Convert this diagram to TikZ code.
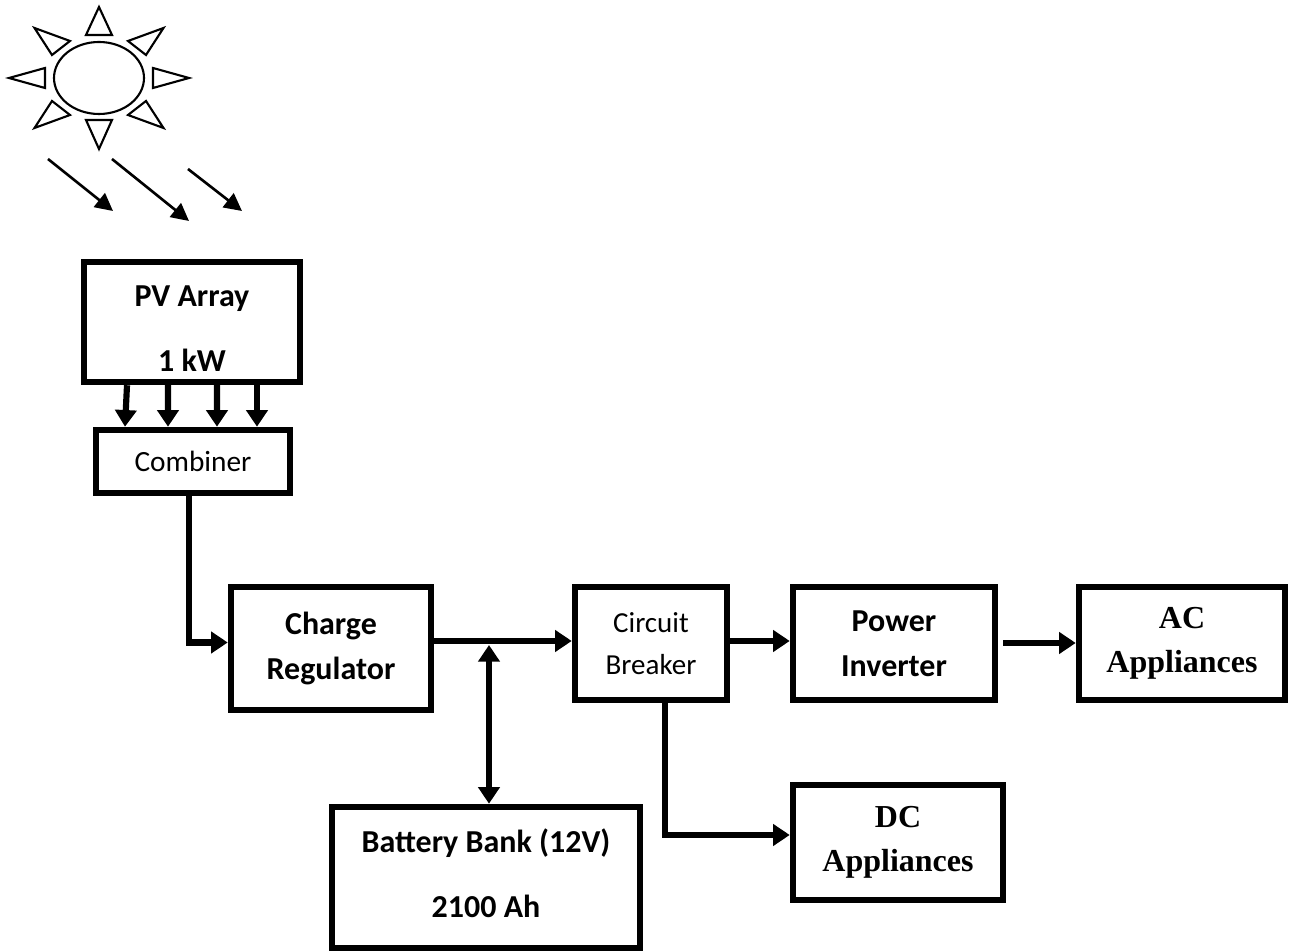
\documentclass[tikz,border=0pt]{standalone}
\usepackage{fontspec}
\setmainfont{Carlito}
\newfontfamily\timesfont{Liberation Serif}
\usetikzlibrary{arrows.meta,shapes.geometric,positioning,calc}

\begin{document}
\begin{tikzpicture}[line cap=butt,
    blockbox/.style={draw=black,line width=3.7pt,align=center,inner sep=0pt},
    thickarrow/.style={-{Triangle[length=9.5pt,width=12pt]},line width=3.5pt},
    rayarrow/.style={-{Triangle[length=10pt,width=10pt]},line width=1.5pt},
    raytri/.style={draw=black,line width=1.2pt,line join=miter}]
   \useasboundingbox (0,0) rectangle (25.88,19.02);
   % sun
   \node (sun) [draw=black,line width=1.2pt,ellipse,minimum width=1.8cm,minimum height=1.44cm,inner sep=0pt] at (1.98,17.46) {};
   \foreach \a/\b/\c in {{0,1.42}/{-.26,.86}/{.26,.86}, {0,-1.42}/{-.26,-.84}/{.26,-.84},
                         {1.8,0}/{1.08,.2}/{1.08,-.2}, {-1.8,0}/{-1.08,.2}/{-1.08,-.2},
                         {1.29,1}/{.58,.74}/{.94,.46}, {-1.29,1}/{-.58,.74}/{-.94,.46},
                         {1.29,-1}/{.58,-.74}/{.94,-.46}, {-1.29,-1}/{-.58,-.74}/{-.94,-.46}}
     \draw [raytri] ($(sun.center)+(\a)$) -- ($(sun.center)+(\b)$) -- ($(sun.center)+(\c)$) -- cycle;
   % boxes
   \begin{scope}[every node/.append style={blockbox}]
    \node (pv) [minimum width=4.32cm,minimum height=2.40cm,font=\fontsize{18.2}{22}\selectfont\bfseries] at (3.84,12.58) {\rule{0pt}{19.5pt}PV Array\\[15pt]1 kW};
    \node (comb) [minimum width=3.88cm,minimum height=1.26cm,font=\fontsize{16.7}{20}\selectfont] at (3.86,9.79) {Combiner};
    \node (chg) [minimum width=4cm,minimum height=2.46cm,font=\fontsize{18.2}{25.5}\selectfont\bfseries] at (6.62,6.05) {Charge\\Regulator};
    \node (brk) [minimum width=3.04cm,minimum height=2.26cm,font=\fontsize{16.5}{24}\selectfont] at (13.02,6.15) {Circuit\\Breaker};
    \node (inv) [minimum width=4.04cm,minimum height=2.26cm,font=\fontsize{18.2}{25.5}\selectfont\bfseries] at (17.88,6.15) {Power\\Inverter};
    \node (ac) [minimum width=4.12cm,minimum height=2.26cm,font=\timesfont\fontsize{18.2}{25}\selectfont\bfseries] at (23.64,6.15) {AC\\Appliances};
    \node (dc) [minimum width=4.2cm,minimum height=2.3cm,font=\timesfont\fontsize{18.2}{25}\selectfont\bfseries] at (17.96,2.17) {DC\\Appliances};
    \node (bat) [minimum width=6.16cm,minimum height=2.82cm,font=\fontsize{18.2}{22}\selectfont\bfseries] at (9.72,1.47) {Battery Bank (12V)\\[15pt]2100 Ah\rule[-4.5pt]{0pt}{1pt}};
   \end{scope}
   % sun beams
   \coordinate (b1) at (.96,15.84);  \coordinate (e1) at (2.26,14.8);
   \coordinate (b2) at (2.24,15.84); \coordinate (e2) at (3.78,14.6);
   \coordinate (b3) at (3.76,15.64); \coordinate (e3) at (4.84,14.8);
   \draw [rayarrow] (b1) -- (e1);
   \draw [rayarrow] (b2) -- (e2);
   \draw [rayarrow] (b3) -- (e3);
   % connectors
   \foreach \a/\b in {-1.3/-1.36,-.48/-.5,.5/.48,1.3/1.28}
     \draw [thickarrow] ([xshift=\a cm]pv.south) -- ([xshift=\b cm]comb.north);
   \coordinate (bus) at (9.78,6.12);
   \coordinate (acstart) at (20.06,6.16);
   \draw [thickarrow] ([xshift=-.08cm]comb.south) |- ([yshift=.12cm]chg.west);
   \draw [thickarrow] ([yshift=.15cm]chg.east) -- ([yshift=.05cm]brk.west);
   \draw [thickarrow,{Triangle[length=9.5pt,width=12pt]}-{Triangle[length=9.5pt,width=12pt]}] (bus) -- (bus |- bat.north);
   \draw [thickarrow] ([yshift=.05cm]brk.east) -- ([yshift=.05cm]inv.west);
   \draw [thickarrow] (acstart) -- (acstart -| ac.west);
   \draw [thickarrow] ([xshift=.28cm]brk.south) |- ([yshift=.15cm]dc.west);
\end{tikzpicture}
\end{document}
